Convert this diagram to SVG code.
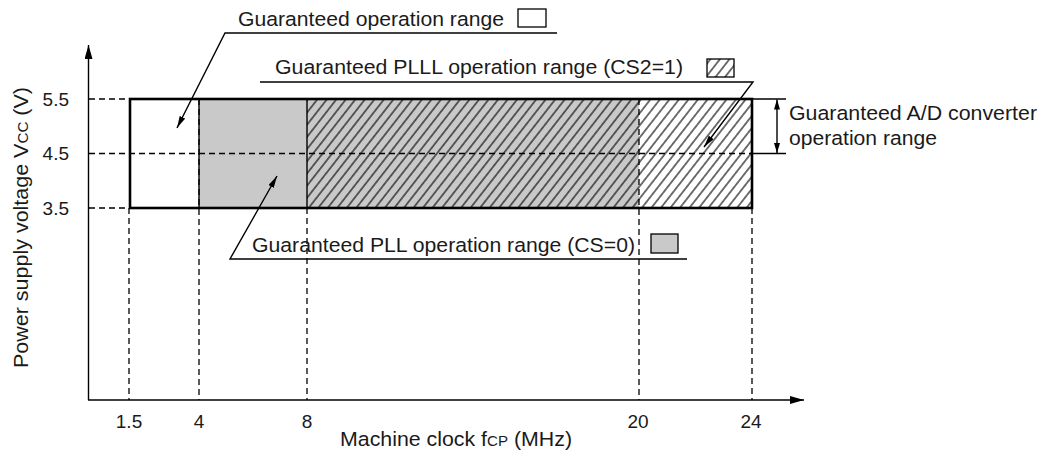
<svg xmlns="http://www.w3.org/2000/svg" width="1044" height="456" viewBox="0 0 1044 456">
<style>
text{font-family:"Liberation Sans",Arial,sans-serif;fill:#1a1a1a}
.lbl{font-size:20.5px}
.tick{font-size:19px}
.ytick{font-size:19px;text-anchor:end}
.ln{stroke:#000;stroke-width:1.4;fill:none}
.dash{stroke:#000;stroke-width:1.3;stroke-dasharray:6 4;fill:none}
.frame{stroke:#000;stroke-width:2.6;fill:none}
</style>
<defs>
<pattern id="hatch" patternUnits="userSpaceOnUse" width="7.5" height="10" patternTransform="rotate(38)">
<line x1="3.75" y1="-1" x2="3.75" y2="11" stroke="#000" stroke-width="1.1"/>
</pattern>
<marker id="arr" viewBox="0 0 12 6" refX="12" refY="3" markerWidth="12" markerHeight="6" markerUnits="userSpaceOnUse" orient="auto">
<path d="M0,0 L12,3 L0,6 z" fill="#000"/>
</marker>
<marker id="axarr" viewBox="0 0 14 8" refX="14" refY="4" markerWidth="14" markerHeight="8" markerUnits="userSpaceOnUse" orient="auto">
<path d="M0,0 L14,4 L0,8 z" fill="#000"/>
</marker>
<marker id="dimarr" viewBox="0 0 10 6" refX="10" refY="3" markerWidth="10" markerHeight="6" markerUnits="userSpaceOnUse" orient="auto">
<path d="M0,0 L10,3 L0,6 z" fill="#000"/>
</marker>
</defs>

<g id="regions">
<rect x="199" y="99" width="440" height="109" fill="#c9c9c9"/>
<rect x="307" y="99" width="445" height="109" fill="url(#hatch)"/>
<line class="ln" x1="199" y1="99" x2="199" y2="208" stroke="#666"/>
<line class="ln" x1="307" y1="99" x2="307" y2="208"/>
</g>

<g id="gridlines">
<line class="dash" x1="89" y1="99" x2="130" y2="99"/>
<line class="dash" x1="89" y1="153.5" x2="752" y2="153.5"/>
<line class="dash" x1="89" y1="208" x2="130" y2="208"/>
<line class="dash" x1="129" y1="208" x2="129" y2="400"/>
<line class="dash" x1="199" y1="99" x2="199" y2="400"/>
<line class="dash" x1="307" y1="208" x2="307" y2="400"/>
<line class="dash" x1="639" y1="99" x2="639" y2="400"/>
<line class="dash" x1="752" y1="208" x2="752" y2="400"/>
</g>

<g id="range-frame">
<rect class="frame" x="130" y="99" width="622" height="109"/>
</g>

<g id="axes">
<line class="ln" x1="88.5" y1="400" x2="88.5" y2="45" marker-end="url(#axarr)"/>
<line class="ln" x1="88" y1="400" x2="804" y2="400" marker-end="url(#axarr)"/>
<text class="ytick" x="69" y="106">5.5</text>
<text class="ytick" x="69" y="160">4.5</text>
<text class="ytick" x="69" y="215">3.5</text>
<text class="tick" x="129" y="428" text-anchor="middle">1.5</text>
<text class="tick" x="199" y="428" text-anchor="middle">4</text>
<text class="tick" x="307" y="428" text-anchor="middle">8</text>
<text class="tick" x="638" y="428" text-anchor="middle">20</text>
<text class="tick" x="751" y="428" text-anchor="middle">24</text>
<text class="lbl" x="340" y="446" textLength="232" lengthAdjust="spacingAndGlyphs">Machine clock f<tspan font-size="14.5">CP</tspan> (MHz)</text>
<text class="lbl" transform="translate(28,227.5) rotate(-90)" x="-140.5" y="0" textLength="281" lengthAdjust="spacingAndGlyphs">Power supply voltage V<tspan font-size="14.5">CC</tspan> (V)</text>
</g>

<g id="label-operation">
<text class="lbl" x="238" y="26" textLength="266" lengthAdjust="spacingAndGlyphs">Guaranteed operation range</text>
<rect x="518" y="9" width="28" height="18" fill="#fff" stroke="#000" stroke-width="1.3"/>
</g>

<g id="label-plll">
<text class="lbl" x="275" y="74" textLength="408" lengthAdjust="spacingAndGlyphs">Guaranteed PLLL operation range (CS2=1)</text>
<rect x="707" y="59" width="27" height="18" fill="url(#hatch)" stroke="#000" stroke-width="1.3"/>
</g>

<g id="label-pll">
<text class="lbl" x="252" y="252" textLength="383" lengthAdjust="spacingAndGlyphs">Guaranteed PLL operation range (CS=0)</text>
<rect x="651" y="234" width="27" height="19" fill="#c9c9c9" stroke="#000" stroke-width="1.3"/>
</g>

<g id="label-ad">
<text class="lbl" x="789" y="120" textLength="248" lengthAdjust="spacingAndGlyphs">Guaranteed A/D converter</text>
<text class="lbl" x="789" y="145" textLength="148" lengthAdjust="spacingAndGlyphs">operation range</text>
</g>

<g id="connectors">
<polyline class="ln" points="557,33 225,33 177,128" marker-end="url(#arr)"/>
<polyline class="ln" points="260,82 753,82 704,147" marker-end="url(#arr)"/>
<polyline class="ln" points="687,259 230,259 277,176" marker-end="url(#arr)"/>
<line class="ln" x1="752" y1="99" x2="786" y2="99"/>
<line class="ln" x1="752" y1="153.5" x2="786" y2="153.5"/>
<line class="ln" x1="777" y1="126" x2="777" y2="99.5" marker-end="url(#dimarr)"/>
<line class="ln" x1="777" y1="126" x2="777" y2="153" marker-end="url(#dimarr)"/>
</g>
</svg>
